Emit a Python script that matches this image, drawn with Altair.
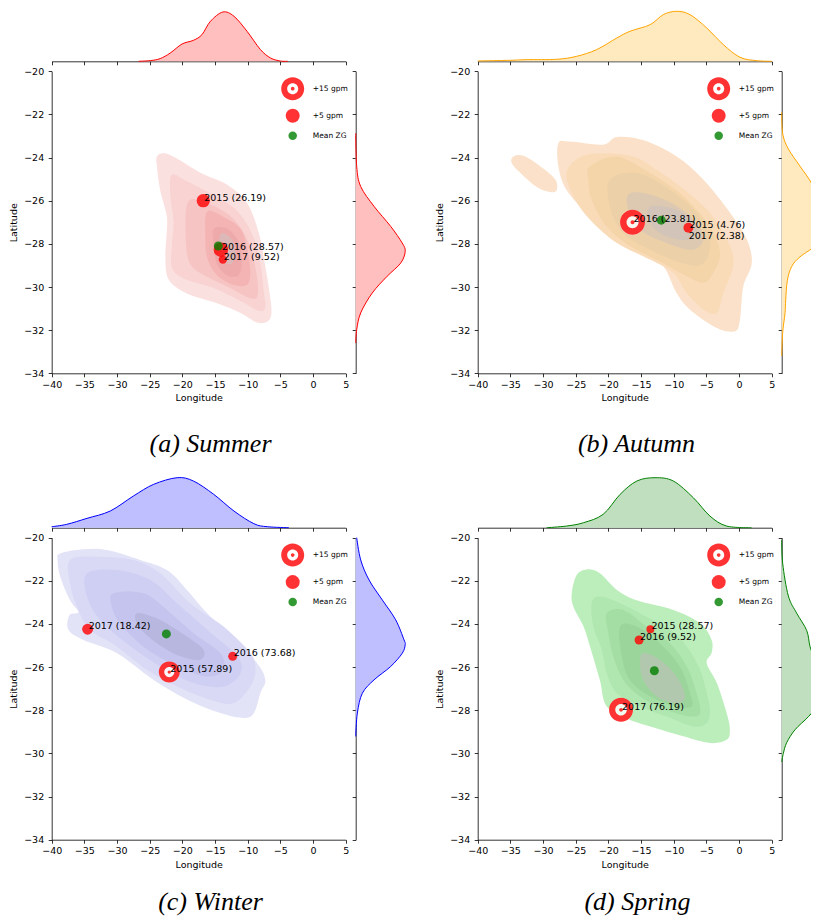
import altair as alt
import pandas as pd

# plot-area size of each panel and whole-figure size (pixels)
W, H = 294, 302
FIG_W, FIG_H = 803, 908
LON_TICKS = [-40, -35, -30, -25, -20, -15, -10, -5, 0, 5]
LAT_TICKS = [-34, -32, -30, -28, -26, -24, -22, -20]
KINDS = ["+15 gpm", "+5 gpm", "Mean ZG"]
CAPTIONS = ["(a) Summer", "(b) Autumn", "(c) Winter", "(d) Spring"]

# ---------------- Summer ----------------
SUMMER_YEARS = [2015, 2016, 2017]
SUMMER_LON = [-16.8, -14.1, -13.8]
SUMMER_LAT = [-26.0, -28.27, -28.73]
SUMMER_PCT = [26.19, 28.57, 9.52]
SUMMER_GPM = [5.0, 6.0, 2.0]
SUMMER_KIND = ["+5 gpm", "+5 gpm", "+5 gpm"]
SUMMER_MEAN = [-14.5, -28.1]
SUMMER_CONTOURS = [
    [(-23.9, -23.95), (-22.9, -23.8), (-21.1, -24.0), (-17.25, -24.7), (-13.2, -25.25), (-10.1, -26.1),
     (-8.3, -27.5), (-7.3, -29.05), (-6.5, -30.6), (-6.4, -31.3), (-7.0, -31.6), (-8.55, -31.65),
     (-11.1, -31.2), (-14.7, -30.75), (-19.3, -30.3), (-22.1, -29.65), (-22.6, -28.6), (-22.4, -27.5),
     (-22.4, -26.7), (-23.4, -25.5), (-23.9, -24.4)],
    [(-21.6, -24.8), (-19.3, -25.1), (-13.7, -26.0), (-11.1, -26.65), (-9.1, -27.7), (-8.05, -28.95),
     (-7.55, -30.2), (-7.3, -30.95), (-8.3, -31.1), (-11.1, -30.65), (-15.2, -30.05), (-19.8, -29.6),
     (-21.6, -29.1), (-21.6, -28.05), (-21.35, -26.95), (-21.85, -25.75)],
    [(-19.0, -26.0), (-15.5, -26.2), (-12.0, -26.9), (-9.8, -28.0), (-8.7, -29.3), (-8.5, -30.4),
     (-9.8, -30.5), (-13.0, -30.0), (-17.0, -29.4), (-19.0, -28.8), (-19.5, -27.5)],
    [(-16.2, -26.5), (-13.7, -26.75), (-11.1, -27.3), (-10.1, -28.2), (-9.6, -29.3), (-10.1, -29.9),
     (-12.15, -29.9), (-14.7, -29.45), (-16.2, -28.65), (-16.5, -27.6)],
    [(-15.2, -27.3), (-13.15, -27.3), (-11.4, -27.9), (-10.9, -28.8), (-11.4, -29.45), (-13.15, -29.45),
     (-14.7, -28.95), (-15.2, -28.05)],
    [(-13.9, -27.5), (-12.4, -27.8), (-11.9, -28.5), (-12.65, -28.95), (-13.9, -28.75), (-14.45, -28.05)],
]
SUMMER_CONTOUR_LEVEL = [0, 1, 2, 3, 4, 5]
SUMMER_TOP_LON = [-26.7, -24.9, -23.4, -21.85, -20.05, -18.3, -17.0, -15.7, -13.8, -12.1, -10.1, -8.05, -6.5, -5.0, -3.85]
SUMMER_TOP_DENS = [0, 0.0014, 0.0054, 0.0166, 0.0346, 0.042, 0.0534, 0.08, 0.0986, 0.09, 0.06, 0.0234, 0.0066, 0.0006, 0]
SUMMER_RIGHT_LAT = [-22.87, -24.41, -25.34, -26.27, -27.19, -27.96, -28.35, -28.89, -29.5, -30.28, -31.2, -31.98, -32.6]
SUMMER_RIGHT_DENS = [0, 0.002, 0.01, 0.037, 0.07, 0.093, 0.099, 0.09, 0.063, 0.033, 0.01, 0.002, 0]

# ---------------- Autumn ----------------
AUTUMN_YEARS = [2015, 2016, 2017]
AUTUMN_LON = [-7.75, -16.3, -7.85]
AUTUMN_LAT = [-27.25, -27.0, -27.76]
AUTUMN_PCT = [4.76, 23.81, 2.38]
AUTUMN_GPM = [2.8, 17.7, 0.0]
AUTUMN_KIND = ["+5 gpm", "+15 gpm", "+5 gpm"]
AUTUMN_MEAN = [-11.9, -26.9]
AUTUMN_CONTOURS = [
    [(-34.55, -23.95), (-33.0, -23.92), (-30.45, -24.4), (-28.15, -25.0), (-27.9, -25.5), (-28.9, -25.6),
     (-31.0, -25.35), (-33.5, -24.7), (-34.8, -24.25)],
    [(-27.65, -23.33), (-25.9, -23.26), (-20.8, -23.4), (-18.7, -23.05), (-14.6, -23.2), (-9.55, -23.95),
     (-5.45, -25.03), (-1.35, -26.57), (1.2, -27.8), (1.95, -28.9), (0.65, -29.97), (0.15, -31.5),
     (-0.6, -32.05), (-3.4, -31.9), (-7.5, -31.05), (-9.55, -30.28), (-11.6, -29.04), (-14.6, -28.58),
     (-18.7, -27.8), (-22.8, -26.73), (-26.4, -25.5), (-27.65, -24.4)],
    [(-24.6, -24.03), (-21.3, -23.8), (-16.2, -23.95), (-12.6, -24.57), (-9.0, -25.34), (-4.45, -26.57),
     (-1.4, -28.1), (-0.9, -29.04), (-2.4, -30.28), (-3.4, -31.2), (-5.45, -31.05), (-8.0, -30.28),
     (-10.05, -29.35), (-13.6, -28.73), (-18.7, -27.96), (-22.8, -26.88), (-25.35, -25.8), (-26.4, -24.72)],
    [(-22.8, -24.4), (-18.7, -23.95), (-13.6, -24.72), (-8.5, -25.8), (-4.45, -27.2), (-2.9, -28.43),
     (-3.95, -29.35), (-5.45, -29.8), (-8.0, -29.5), (-11.6, -28.9), (-16.7, -28.1), (-20.25, -27.2),
     (-22.55, -25.95), (-23.05, -25.03)],
    [(-19.75, -25.03), (-15.65, -24.72), (-10.55, -25.5), (-6.5, -26.57), (-4.45, -27.8), (-5.45, -28.9),
     (-8.5, -28.9), (-13.6, -28.27), (-17.7, -27.5), (-19.75, -26.27)],
    [(-16.7, -25.65), (-12.6, -25.8), (-8.0, -26.57), (-5.45, -27.65), (-7.0, -28.27), (-11.1, -27.96),
     (-15.15, -27.35), (-16.95, -26.42)],
    [(-13.6, -26.27), (-9.55, -26.42), (-6.5, -27.2), (-7.5, -27.8), (-11.1, -27.65), (-13.6, -27.04)],
]
AUTUMN_CONTOUR_LEVEL = [0, 0, 1, 2, 3, 4, 5]
AUTUMN_TOP_LON = [-40, -35.05, -32.5, -27.9, -24.85, -21.8, -18.7, -16.7, -13.6, -11.6, -9.55, -7.5, -4.95, -2.4, 0.15, 2.7, 5.0]
AUTUMN_TOP_DENS = [0.0007, 0.002, 0.0033, 0.004, 0.01, 0.0233, 0.0467, 0.06, 0.0733, 0.0933, 0.1, 0.0933, 0.0667, 0.0333, 0.008, 0.0013, 0]
AUTUMN_RIGHT_LAT = [-21.9, -22.9, -23.6, -24.4, -25.2, -26.0, -26.5, -27.0, -27.5, -28.0, -28.6, -29.05, -29.7, -30.6, -31.2, -32.1, -33.2]
AUTUMN_RIGHT_DENS = [0, 0.002, 0.0133, 0.0367, 0.06, 0.074, 0.085, 0.09, 0.085, 0.073, 0.0367, 0.02, 0.0113, 0.008, 0.0067, 0.002, 0]

# ---------------- Winter ----------------
WINTER_YEARS = [2015, 2016, 2017]
WINTER_LON = [-22.0, -12.3, -34.5]
WINTER_LAT = [-26.23, -25.5, -24.24]
WINTER_PCT = [57.89, 73.68, 18.42]
WINTER_GPM = [12.5, 2.3, 3.4]
WINTER_KIND = ["+15 gpm", "+5 gpm", "+5 gpm"]
WINTER_MEAN = [-22.45, -24.46]
WINTER_CONTOURS = [
    [(-38.7, -20.73), (-35.15, -20.54), (-31.55, -20.57), (-26.45, -21.03), (-22.35, -21.5), (-19.3, -22.42),
     (-16.2, -23.5), (-12.1, -24.74), (-8.55, -25.82), (-7.3, -26.6), (-8.05, -27.2), (-9.05, -28.13),
     (-10.6, -28.36), (-14.2, -28.13), (-19.3, -27.5), (-24.4, -26.6), (-30.05, -25.35), (-35.15, -24.74),
     (-37.45, -24.27), (-37.3, -23.6), (-35.9, -23.45), (-37.2, -22.9), (-38.7, -21.8), (-39.1, -21.03)],
    [(-37.2, -21.03), (-33.1, -20.88), (-27.5, -21.03), (-23.4, -21.65), (-18.8, -23.04), (-13.7, -24.12),
     (-9.6, -25.35), (-8.8, -26.13), (-9.6, -26.9), (-12.1, -27.67), (-15.7, -27.52), (-20.8, -26.9),
     (-25.4, -26.13), (-30.0, -25.05), (-34.1, -24.27), (-36.15, -23.2), (-37.2, -22.1)],
    [(-34.6, -21.65), (-30.0, -21.5), (-24.9, -21.96), (-20.8, -23.04), (-16.2, -24.27), (-11.6, -25.5),
     (-11.1, -26.28), (-13.7, -26.9), (-18.3, -26.74), (-23.4, -25.97), (-28.5, -24.9), (-32.6, -23.81),
     (-34.6, -22.73)],
    [(-30.55, -22.58), (-25.95, -22.58), (-22.35, -23.35), (-18.3, -24.43), (-14.2, -25.35), (-13.7, -26.13),
     (-16.2, -26.44), (-20.8, -25.97), (-25.95, -25.05), (-29.5, -23.97), (-30.8, -23.2)],
    [(-26.95, -23.5), (-23.4, -23.81), (-19.3, -24.58), (-16.75, -25.2), (-17.25, -25.66), (-20.3, -25.5),
     (-23.9, -24.89), (-26.7, -24.12)],
]
WINTER_CONTOUR_LEVEL = [0, 1, 2, 3, 4]
WINTER_TOP_LON = [-40, -37.7, -34.6, -31.05, -27.5, -24.4, -20.8, -18.3, -15.2, -12.1, -9.05, -7.0, -3.7]
WINTER_TOP_DENS = [0.002, 0.0067, 0.0187, 0.0333, 0.0633, 0.0867, 0.1, 0.0933, 0.0667, 0.0333, 0.008, 0.002, 0]
WINTER_RIGHT_LAT = [-20.0, -21.03, -21.96, -22.89, -23.81, -24.74, -24.95, -25.35, -25.97, -26.59, -27.21, -28.13, -29.21]
WINTER_RIGHT_DENS = [0.002, 0.01, 0.0267, 0.0533, 0.08, 0.0967, 0.099, 0.0933, 0.07, 0.0367, 0.0133, 0.0033, 0]

# ---------------- Spring ----------------
SPRING_YEARS = [2015, 2016, 2017]
SPRING_LON = [-13.57, -15.3, -18.06]
SPRING_LAT = [-24.24, -24.74, -27.98]
SPRING_PCT = [28.57, 9.52, 76.19]
SPRING_GPM = [1.8, 2.3, 16.3]
SPRING_KIND = ["+5 gpm", "+5 gpm", "+15 gpm"]
SPRING_MEAN = [-12.96, -26.17]
SPRING_CONTOURS = [
    [(-24.85, -21.73), (-23.3, -21.47), (-21.3, -21.65), (-18.7, -22.42), (-15.65, -22.9), (-10.05, -23.35),
     (-5.95, -23.97), (-4.2, -24.74), (-4.2, -25.35), (-4.95, -25.82), (-3.4, -26.74), (-1.9, -28.13),
     (-1.4, -28.9), (-1.9, -29.37), (-4.45, -29.52), (-8.5, -29.21), (-13.6, -28.75), (-16.7, -28.44),
     (-20.25, -27.82), (-21.3, -26.6), (-22.8, -25.05), (-23.8, -24.12), (-25.35, -23.2), (-25.6, -22.58)],
    [(-22.55, -23.04), (-21.3, -22.73), (-18.2, -23.04), (-14.15, -23.66), (-10.55, -24.27), (-8.0, -25.05),
     (-5.95, -26.13), (-4.95, -27.2), (-4.45, -27.98), (-4.95, -28.6), (-7.0, -28.75), (-11.1, -28.29),
     (-15.15, -27.82), (-18.7, -27.2), (-20.25, -26.28), (-21.0, -25.2), (-22.3, -24.12)],
    [(-20.25, -23.5), (-17.7, -23.35), (-14.15, -24.12), (-10.55, -24.9), (-8.0, -25.97), (-6.5, -27.2),
     (-5.95, -28.13), (-7.5, -28.29), (-11.1, -27.98), (-15.15, -27.36), (-17.7, -26.6), (-19.25, -25.5),
     (-20.0, -24.43)],
    [(-18.2, -24.12), (-15.65, -24.12), (-12.1, -24.9), (-9.05, -25.97), (-7.5, -27.2), (-7.25, -27.82),
     (-9.55, -27.82), (-13.6, -27.36), (-16.7, -26.6), (-17.95, -25.5)],
    [(-14.65, -25.35), (-12.1, -25.66), (-9.55, -26.44), (-8.25, -27.36), (-9.55, -27.67), (-12.6, -27.36),
     (-14.65, -26.6), (-15.15, -25.82)],
]
SPRING_CONTOUR_LEVEL = [0, 1, 2, 3, 4]
SPRING_TOP_LON = [-29.45, -26.4, -23.8, -20.8, -18.2, -15.65, -12.85, -10.05, -7.0, -4.45, -1.9, 1.9]
SPRING_TOP_DENS = [0, 0.0033, 0.01, 0.0267, 0.0667, 0.0933, 0.1, 0.0933, 0.06, 0.0233, 0.0033, 0]
SPRING_RIGHT_LAT = [-20.1, -21.2, -22.7, -23.5, -24.3, -25.05, -25.66, -25.97, -26.5, -27.1, -27.75, -28.3, -28.9, -29.5, -30.0, -30.4]
SPRING_RIGHT_DENS = [0, 0.002, 0.0133, 0.03, 0.05, 0.0567, 0.0667, 0.073, 0.088, 0.092, 0.073, 0.0533, 0.0267, 0.01, 0.0033, 0]

# ---------------- styles ----------------
SUMMER_FILLS = ["#fbe0e0", "#f9d2d2", "#f7c4c4", "#f4b4b4", "#eeaaaa", "#dcb8b8"]
AUTUMN_FILLS = ["#fbe1c9", "#f9dbb8", "#f4d4a9", "#ebd0a8", "#ddc9b2", "#d2c4b8"]
WINTER_FILLS = ["#e3e3f8", "#d9d9f6", "#cfcff3", "#c4c4ee", "#b7b7e0"]
SPRING_FILLS = ["#bbeebb", "#b0e6b0", "#a5dea5", "#9bd59b", "#b2c8ae"]

TARGET = ("M-1,0A1,1,0,1,1,1,0A1,1,0,1,1,-1,0Z"
          "M-0.48,0A0.48,0.48,0,1,0,0.48,0A0.48,0.48,0,1,0,-0.48,0Z"
          "M-0.16,0A0.16,0.16,0,1,1,0.16,0A0.16,0.16,0,1,1,-0.16,0Z")

TEXT_FONT = "DejaVu Sans"


def panel_layers(years, lons, lats, pcts, gpms, kinds, mean, contours, levels, fills,
                 top_lon, top_dens, right_lat, right_dens, line_c, fill_c,
                 caption, x0, y0, cap_x, cap_y):
    rows = []
    for p, (poly, lev) in enumerate(zip(contours, levels)):
        for i, (lo, la) in enumerate(poly):
            rows.append({"poly": p, "level": lev, "i": i, "lon": lo, "lat": la})
    dfc = pd.DataFrame(rows)
    dft = pd.DataFrame({"lon": top_lon, "dens": top_dens})
    dfr = pd.DataFrame({"lat": right_lat, "dens": right_dens})
    pts = pd.DataFrame({
        "kind": list(kinds), "lon": list(lons), "lat": list(lats), "gpm": list(gpms),
        "label": [f"{y} ({v:.2f})" for y, v in zip(years, pcts)],
    })
    mn = pd.DataFrame({"kind": ["Mean ZG"], "lon": [mean[0]], "lat": [mean[1]]})
    leg = pd.DataFrame({"kind": KINDS, "lon": [mean[0]] * 3, "lat": [mean[1]] * 3})

    xs = alt.Scale(domain=[-40, 5], range=[x0, x0 + W], nice=False, zero=False)
    ys = alt.Scale(domain=[-34, -20], range=[y0 + H, y0], nice=False, zero=False)
    tscale = alt.Scale(domain=[0, 0.1], range=[y0 - 10, y0 - 60])
    rscale = alt.Scale(domain=[0, 0.1], range=[x0 + W + 10, x0 + W + 60])
    gpm_size = alt.Size("gpm:Q", scale=alt.Scale(domain=[0, 15], range=[0, 529]), legend=None)

    x_axis = alt.Axis(orient="bottom", offset=-(FIG_H - (y0 + H)), values=LON_TICKS, title="Longitude",
                      labelFlush=False, labelPadding=2.5, titlePadding=4)
    y_axis = alt.Axis(orient="left", offset=-x0, values=LAT_TICKS, title="Latitude",
                      labelFlush=False, labelPadding=4.5, titlePadding=5)
    top_axis = alt.Axis(orient="bottom", offset=-(FIG_H - (y0 - 10)), values=LON_TICKS, labels=False, title=None)
    right_axis = alt.Axis(orient="left", offset=-(x0 + W + 10), values=LAT_TICKS, labels=False, title=None)
    cap_axis = alt.Axis(orient="bottom", offset=-(FIG_H - cap_y), domain=False, ticks=False, labels=False,
                        title=caption, titleX=cap_x, titleY=0, titleBaseline="alphabetic", titleAlign="center",
                        titleFont="Liberation Serif", titleFontStyle="italic", titleFontSize=26,
                        titleFontWeight="normal", titleColor="black")

    x_plain = alt.X("lon:Q", scale=xs, axis=None)
    y_plain = alt.Y("lat:Q", scale=ys, axis=None)

    cont = alt.Chart(dfc).mark_line(interpolate="cardinal-closed", filled=True, strokeWidth=0).encode(
        x=alt.X("lon:Q", scale=xs, axis=x_axis),
        y=alt.Y("lat:Q", scale=ys, axis=y_axis),
        detail="poly:N", order="i:Q",
        fill=alt.Fill("level:O", scale=alt.Scale(domain=list(range(len(fills))), range=fills), legend=None),
    )
    top_area = alt.Chart(dft).mark_area(interpolate="cardinal", color=fill_c).encode(
        x=alt.X("lon:Q", scale=xs, axis=top_axis),
        y=alt.Y("dens:Q", scale=tscale, axis=None, stack=None),
    )
    top_line = alt.Chart(dft).mark_line(interpolate="cardinal", color=line_c, strokeWidth=1).encode(
        x=x_plain, y=alt.Y("dens:Q", scale=tscale, axis=None),
    )
    right_area = alt.Chart(dfr).mark_area(orient="horizontal", interpolate="cardinal", color=fill_c).encode(
        x=alt.X("dens:Q", scale=rscale, axis=None, stack=None),
        y=alt.Y("lat:Q", scale=ys, axis=right_axis),
    )
    right_line = alt.Chart(dfr).mark_line(interpolate="cardinal", color=line_c, strokeWidth=1).encode(
        x=alt.X("dens:Q", scale=rscale, axis=None), y=y_plain, order="lat:Q",
    )
    under = alt.Chart(pts).transform_filter("datum.kind === '+15 gpm'").mark_point(
        shape="circle", filled=True, color="white", opacity=0.8, strokeWidth=0).encode(
        x=x_plain, y=y_plain, size=gpm_size)
    targets = alt.Chart(pts).transform_filter("datum.kind === '+15 gpm'").mark_point(
        shape=TARGET, filled=True, color="red", opacity=0.8, strokeWidth=0).encode(
        x=x_plain, y=y_plain, size=gpm_size)
    circles = alt.Chart(pts).transform_filter("datum.kind === '+5 gpm'").mark_point(
        shape="circle", filled=True, color="red", opacity=0.8, strokeWidth=0).encode(
        x=x_plain, y=y_plain, size=gpm_size)
    means = alt.Chart(mn).mark_point(shape="circle", filled=True, color="green", opacity=0.8,
                                     strokeWidth=0, size=81).encode(x=x_plain, y=y_plain)
    legend = alt.Legend(
        title=None, orient="none", legendX=x0 + 229.5, legendY=y0 + 5.9, padding=0,
        labelFont=TEXT_FONT, labelFontSize=7.5, labelColor="black", labelOffset=8.5,
        rowPadding=8.5, symbolStrokeWidth=0, symbolOpacity=0.8,
    )
    legend_layer = alt.Chart(leg).mark_point(filled=True, opacity=0, strokeWidth=0).encode(
        x=x_plain, y=y_plain,
        color=alt.Color("kind:N", scale=alt.Scale(domain=KINDS, range=["red", "red", "green"]), legend=legend),
        shape=alt.Shape("kind:N", scale=alt.Scale(domain=KINDS, range=[TARGET, "circle", "circle"]), legend=legend),
        size=alt.Size("kind:N", scale=alt.Scale(type="ordinal", domain=KINDS, range=[529, 196, 72]), legend=legend),
    )
    labels = alt.Chart(pts).mark_text(
        align="left", baseline="alphabetic", dx=1, font=TEXT_FONT, fontSize=9.5, color="black").encode(
        x=alt.X("lon:Q", scale=xs, axis=cap_axis), y=y_plain, text="label:N")

    return [cont, top_area, top_line, right_area, right_line, under, targets, circles, means,
            legend_layer, labels]


layers = []
layers += panel_layers(SUMMER_YEARS, SUMMER_LON, SUMMER_LAT, SUMMER_PCT, SUMMER_GPM, SUMMER_KIND, SUMMER_MEAN,
                       SUMMER_CONTOURS, SUMMER_CONTOUR_LEVEL, SUMMER_FILLS, SUMMER_TOP_LON, SUMMER_TOP_DENS,
                       SUMMER_RIGHT_LAT, SUMMER_RIGHT_DENS, "red", "#ffbfbf", CAPTIONS[0],
                       43.7, 63.3, 202, 443)
layers += panel_layers(AUTUMN_YEARS, AUTUMN_LON, AUTUMN_LAT, AUTUMN_PCT, AUTUMN_GPM, AUTUMN_KIND, AUTUMN_MEAN,
                       AUTUMN_CONTOURS, AUTUMN_CONTOUR_LEVEL, AUTUMN_FILLS, AUTUMN_TOP_LON, AUTUMN_TOP_DENS,
                       AUTUMN_RIGHT_LAT, AUTUMN_RIGHT_DENS, "orange", "#ffe9bf", CAPTIONS[1],
                       469.7, 63.3, 628, 443)
layers += panel_layers(WINTER_YEARS, WINTER_LON, WINTER_LAT, WINTER_PCT, WINTER_GPM, WINTER_KIND, WINTER_MEAN,
                       WINTER_CONTOURS, WINTER_CONTOUR_LEVEL, WINTER_FILLS, WINTER_TOP_LON, WINTER_TOP_DENS,
                       WINTER_RIGHT_LAT, WINTER_RIGHT_DENS, "blue", "#bfbfff", CAPTIONS[2],
                       43.7, 529.7, 202, 901)
layers += panel_layers(SPRING_YEARS, SPRING_LON, SPRING_LAT, SPRING_PCT, SPRING_GPM, SPRING_KIND, SPRING_MEAN,
                       SPRING_CONTOURS, SPRING_CONTOUR_LEVEL, SPRING_FILLS, SPRING_TOP_LON, SPRING_TOP_DENS,
                       SPRING_RIGHT_LAT, SPRING_RIGHT_DENS, "green", "#bfdfbf", CAPTIONS[3],
                       469.7, 529.7, 629, 901)

chart = alt.layer(*layers).resolve_scale(
    x="independent", y="independent", color="independent", shape="independent",
    size="independent", fill="independent",
).resolve_axis(x="independent", y="independent").resolve_legend(
    color="independent", shape="independent", size="independent",
).properties(
    width=FIG_W, height=FIG_H, autosize=alt.AutoSizeParams(type="none"), padding=0,
).configure(background="white").configure_view(stroke=None).configure_axis(
    domainColor="black", tickColor="black", labelColor="black", titleColor="black",
    labelFont=TEXT_FONT, titleFont=TEXT_FONT, labelFontSize=9.5, titleFontSize=9.5,
    titleFontWeight="normal", tickSize=3.5, tickWidth=0.8, domainWidth=0.8, grid=False,
)

chart.save("out.html", embed_options={"renderer": "svg", "actions": False})
